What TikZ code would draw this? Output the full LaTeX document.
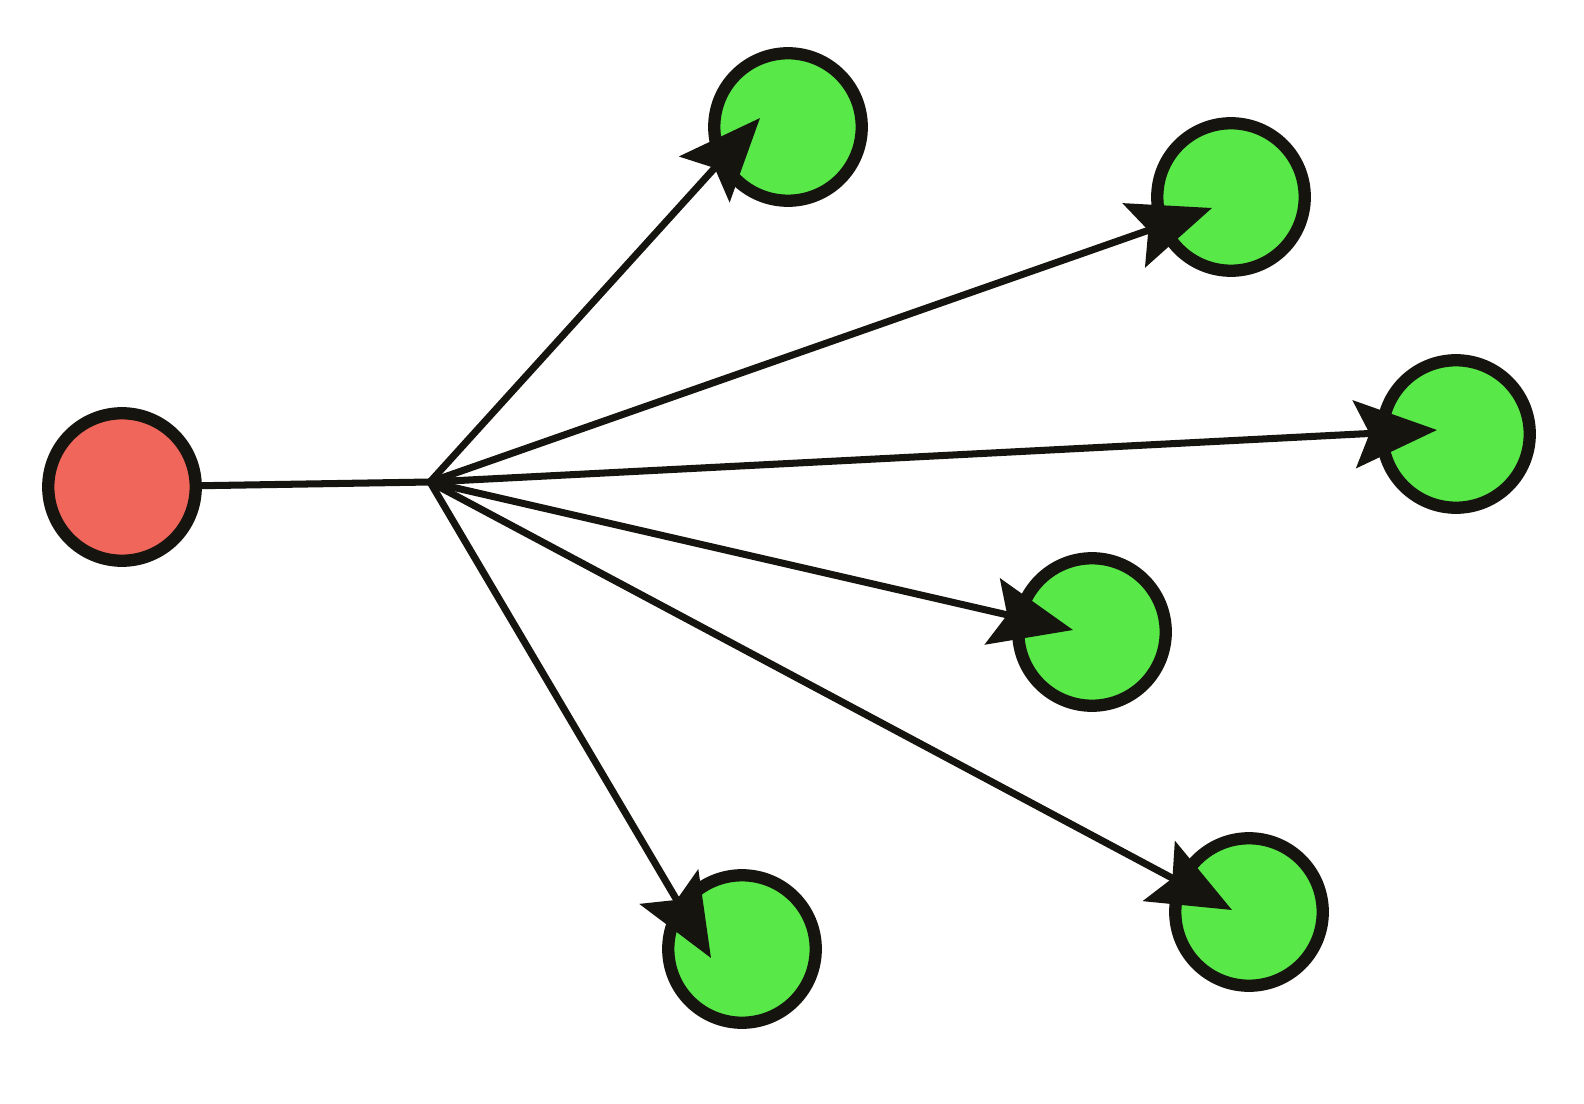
\documentclass[tikz,border=0pt]{standalone}
\usetikzlibrary{arrows.meta}
\definecolor{gfill}{RGB}{88,232,72}
\definecolor{rfill}{RGB}{240,102,90}
\definecolor{ink}{RGB}{22,20,14}
\begin{document}
\begin{tikzpicture}[x=0.02cm,y=-0.02cm,
  ball/.style={circle,draw=ink,line width=7pt,minimum size=2.95cm,inner sep=0pt},
  src/.style={ball,fill=rfill},
  dst/.style={ball,fill=gfill},
  link/.style={draw=ink,line width=4pt,line cap=round,line join=round},
  arr/.style={link,-{Stealth[length=1.65cm,width=1.35cm,inset=0.3cm]}}]
\useasboundingbox (0,0) rectangle (1584,1104);
\fill[white] (0,0) rectangle (1584,1104);
\node[src] (r) at (122,487) {};
\node[dst] (g1) at (788,127) {};
\node[dst] (g2) at (1231,197) {};
\node[dst] (g3) at (1456,434) {};
\node[dst] (g4) at (1092,632) {};
\node[dst] (g5) at (742,949) {};
\node[dst] (g6) at (1249,912) {};
\coordinate (hub) at (430,482);
\coordinate (t1) at ([shift={(-28,-9)}]g1.center);
\coordinate (t2) at ([shift={(-19,11)}]g2.center);
\coordinate (t3) at ([shift={(-19,-4)}]g3.center);
\coordinate (t4) at ([shift={(-19,-2)}]g4.center);
\coordinate (t5) at ([shift={(-31,9)}]g5.center);
\coordinate (t6) at ([shift={(-17,-2)}]g6.center);
\draw[link] (r) -- (hub);
\foreach \t in {t1,t2,t3,t4,t5,t6}
  \draw[arr] (hub) -- (\t);
\end{tikzpicture}
\end{document}
